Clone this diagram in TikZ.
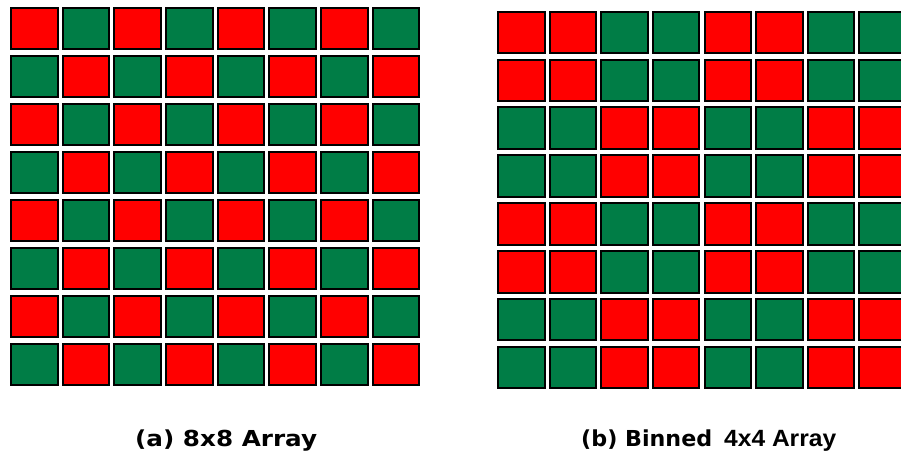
\documentclass[tikz,border=0pt]{standalone}
\usepackage{fontspec}
\usepackage{graphicx}
\setmainfont{DejaVu Sans}
\newfontfamily\arialb{Liberation Sans}[BoldFont={* Bold}]
\definecolor{cred}{RGB}{255,0,0}
\definecolor{cgreen}{RGB}{0,125,70}
\begin{document}
\begin{tikzpicture}[x=1pt,y=-1pt,
  cell/.style={draw=black,line width=2pt},
  lab/.style={inner sep=0pt, anchor=base west}]
\useasboundingbox (0,0) rectangle (901,460);
\begin{scope}
\clip (0,0) rectangle (901,460);
% (a) 8x8 checkerboard
\foreach \i in {0,...,7}{
  \foreach \j in {0,...,7}{
    \pgfmathtruncatemacro\p{mod(\i+\j,2)}
    \ifnum\p=0 \def\cc{cred}\else\def\cc{cgreen}\fi
    \pgfmathsetmacro\xa{10+51.67*\j+1}
    \pgfmathsetmacro\ya{6.7+48*\i+1}
    \path[cell,fill=\cc] (\xa,\ya) rectangle ++(46.5,41.3);
  }
}
% (b) binned
\foreach \i in {0,...,7}{
  \foreach \j in {0,...,7}{
    \pgfmathtruncatemacro\p{mod(int(\i/2)+int(\j/2),2)}
    \ifnum\p=0 \def\cc{cred}\else\def\cc{cgreen}\fi
    \pgfmathsetmacro\xa{497.3+51.57*\j+1}
    \pgfmathsetmacro\ya{10.7+47.86*\i+1}
    \path[cell,fill=\cc] (\xa,\ya) rectangle ++(46.4,41.6);
  }
}
\end{scope}
\node[lab] (la) at (135,446) {\fontsize{22}{26}\selectfont\resizebox{182pt}{\height}{\bfseries (a) 8x8 Array}};
\node[lab] (lb) at (581,446) {\fontsize{22}{26}\selectfont\resizebox{131pt}{\height}{\bfseries (b) Binned}\hspace{12pt}{\fontsize{23.5}{27}\selectfont\resizebox{112pt}{\height}{\arialb\bfseries 4x4 Array}}};
\end{tikzpicture}
\end{document}
